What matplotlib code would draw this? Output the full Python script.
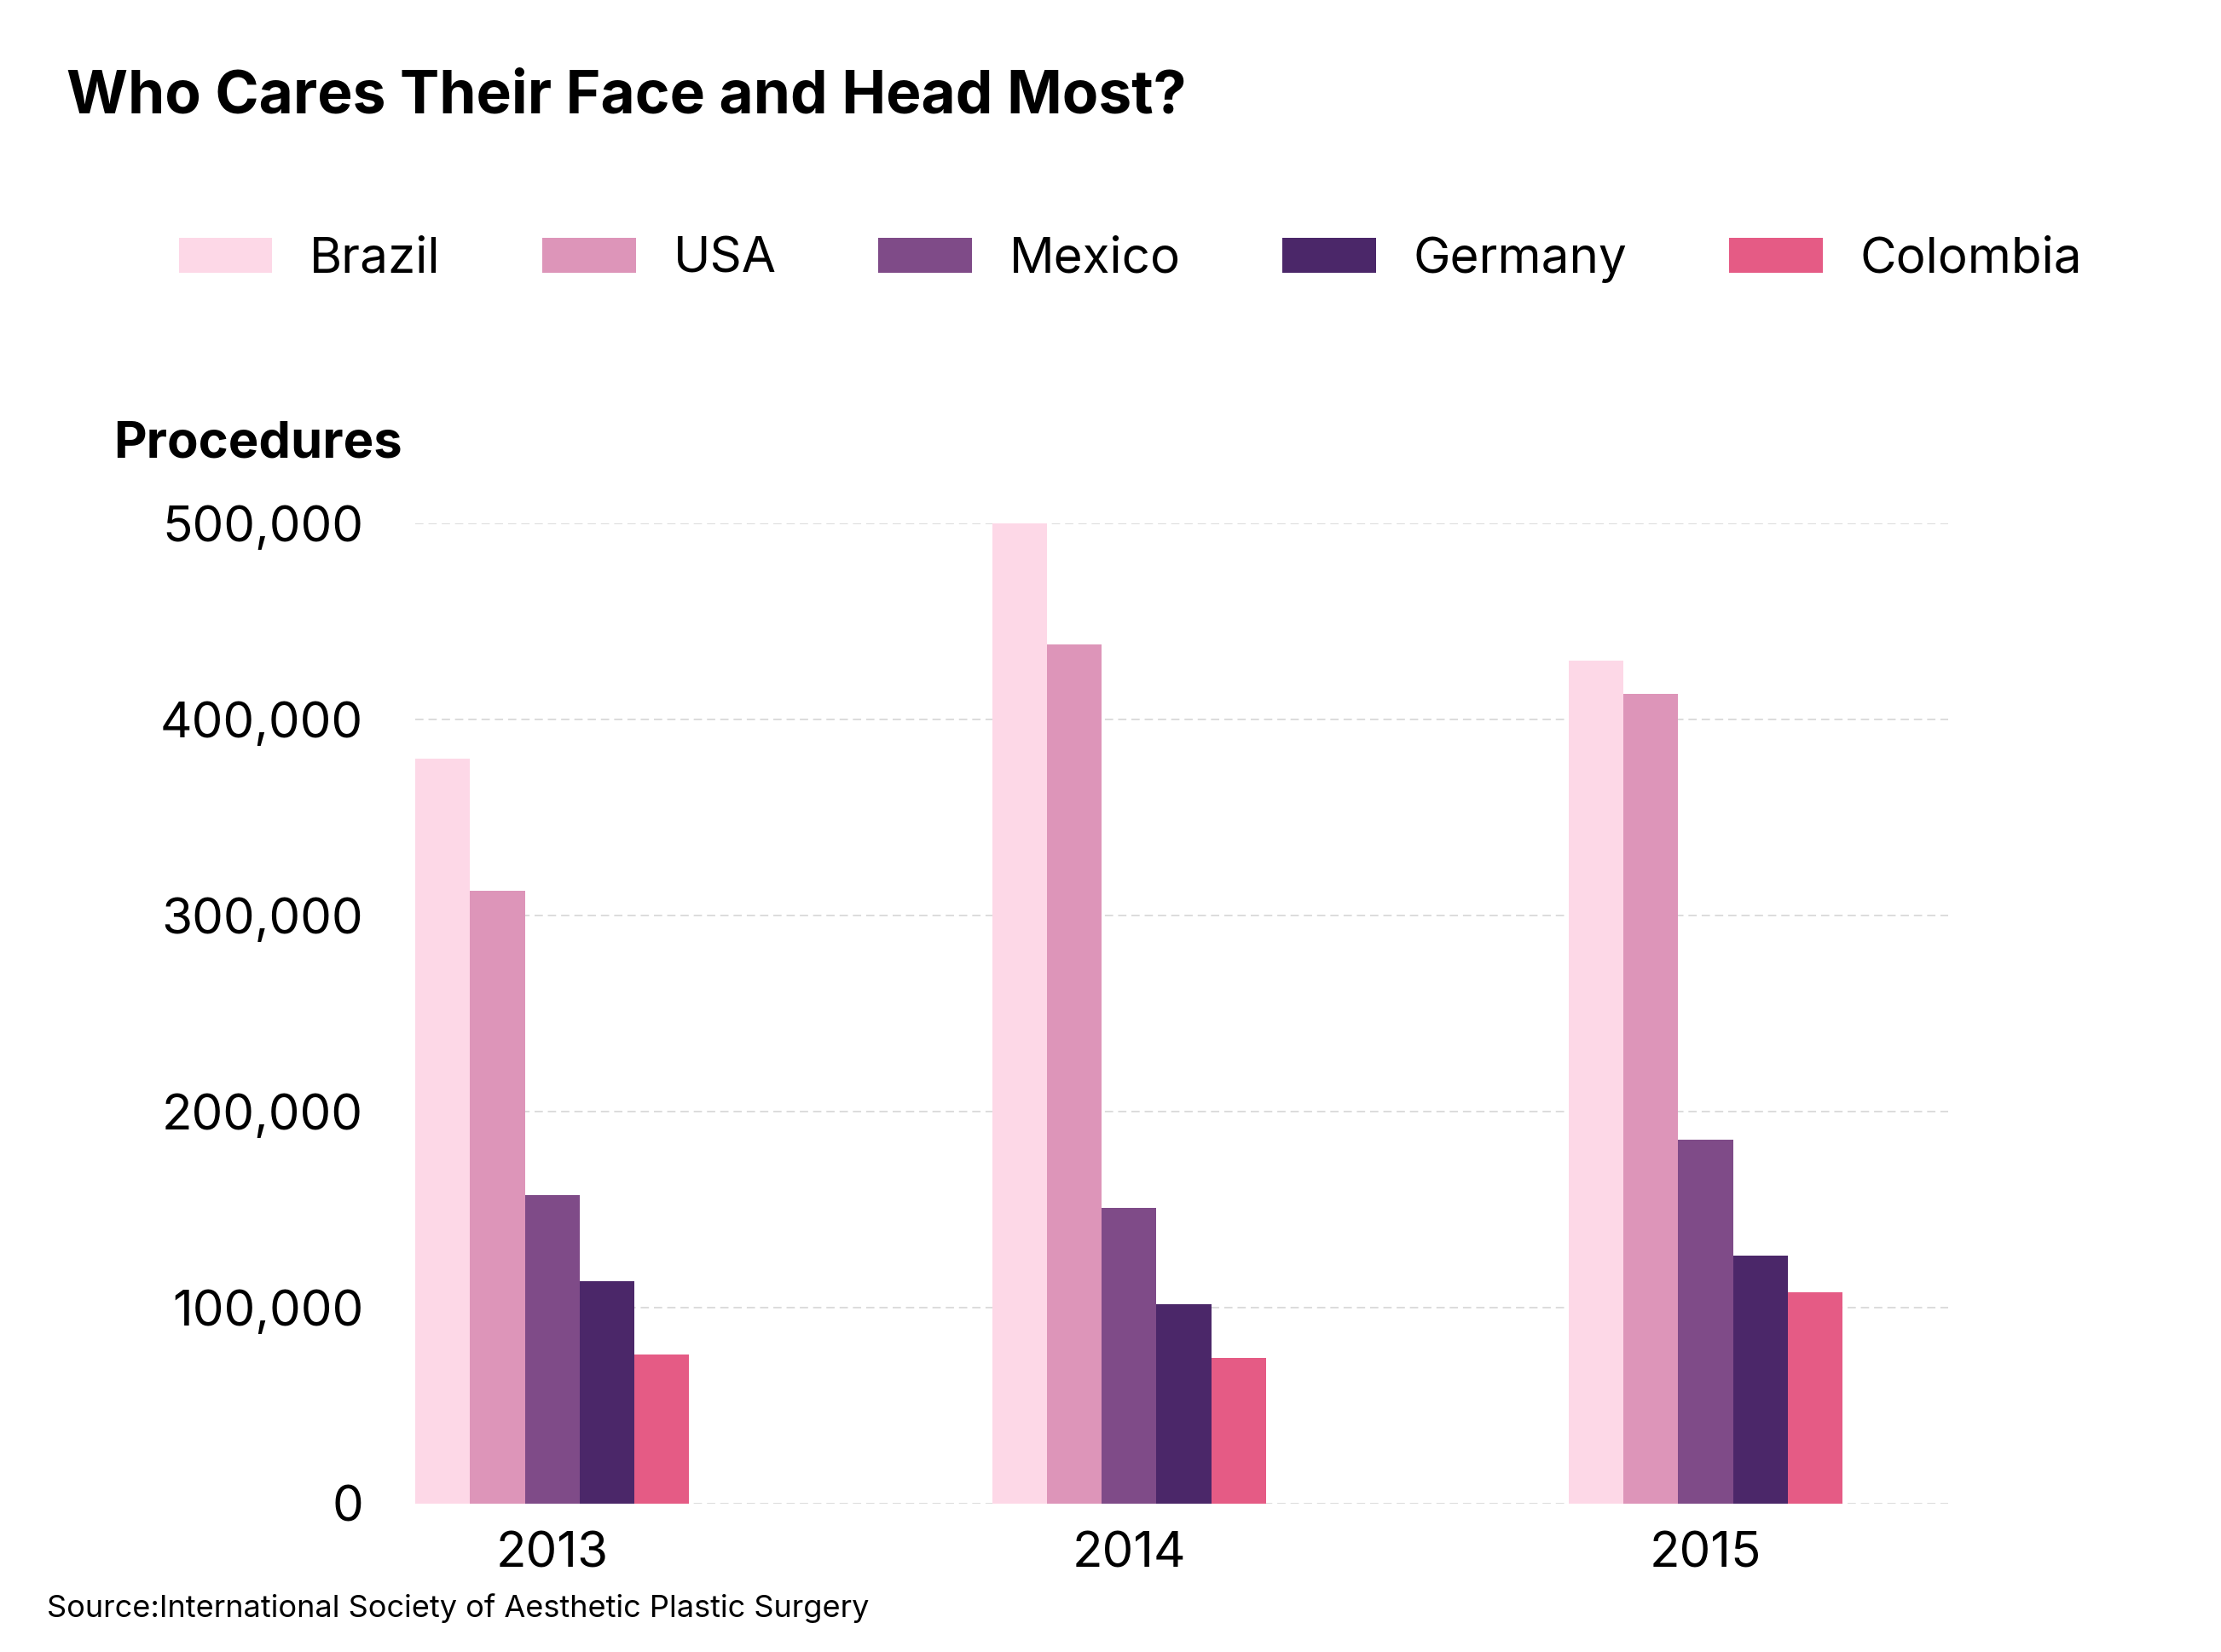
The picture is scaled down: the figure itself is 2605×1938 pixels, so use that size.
import numpy as np
import matplotlib
matplotlib.use("Agg")
from matplotlib import pyplot as plt
from matplotlib.ticker import FuncFormatter

years = ["2013", "2014", "2015"]
countries = ["Brazil", "USA", "Mexico", "Germany", "Colombia"]
brazil = [380000, 500000, 430000]
usa = [312500, 438500, 413000]
mexico = [157500, 151000, 185500]
germany = [113500, 101500, 126500]
colombia = [76000, 74000, 107500]
series = [brazil, usa, mexico, germany, colombia]
colors = ["#fdd8e7", "#dd95b9", "#7f4b88", "#4b2769", "#e55b85"]

plt.rcParams['font.family'] = ['Inter', 'DejaVu Sans']

fig = plt.figure(figsize=(13.025, 9.69), dpi=200)
ax = fig.add_axes([0.187, 0.090, 0.690, 0.593])

x = np.arange(len(years))
width = 0.095
for i, (name, vals) in enumerate(zip(countries, series)):
    offset = (i - 2) * width
    ax.bar(x + offset, vals, width, color=colors[i], label=name, zorder=2)

ax.set_xlim(-0.2375, 2.42)
ax.set_ylim(0, 500000)
ax.set_yticks(np.arange(0, 500001, 100000))
ax.yaxis.set_major_formatter(FuncFormatter(lambda v, p: f"{int(v):,}"))
ax.set_xticks(x)
ax.set_xticklabels(years)
ax.tick_params(axis='y', length=0, pad=22, labelsize=21)
ax.tick_params(axis='x', length=0, pad=12, labelsize=21)

ax.grid(axis='y', color='#dcdcdc', linestyle=(0, (5, 3)), linewidth=0.7, zorder=0)
for s in ax.spines.values():
    s.set_visible(False)

fig.text(0.030, 0.9314, "Who Cares Their Face and Head Most?", fontsize=25,
         fontweight='bold', va='baseline', ha='left')
fig.text(0.051, 0.723, "Procedures", fontsize=21.5, fontweight='bold',
         va='baseline', ha='left')
fig.text(0.021, 0.021, "Source:International Society of Aesthetic Plastic Surgery",
         fontsize=13, va='baseline', ha='left')

fig.legend(loc='center left', bbox_to_anchor=(0.0715, 0.843), ncol=5,
           frameon=False, fontsize=21, handlelength=1.88, handleheight=0.7,
           handletextpad=0.75, columnspacing=2.05, borderaxespad=0)

fig.savefig("out.png", dpi=200, facecolor='white')
